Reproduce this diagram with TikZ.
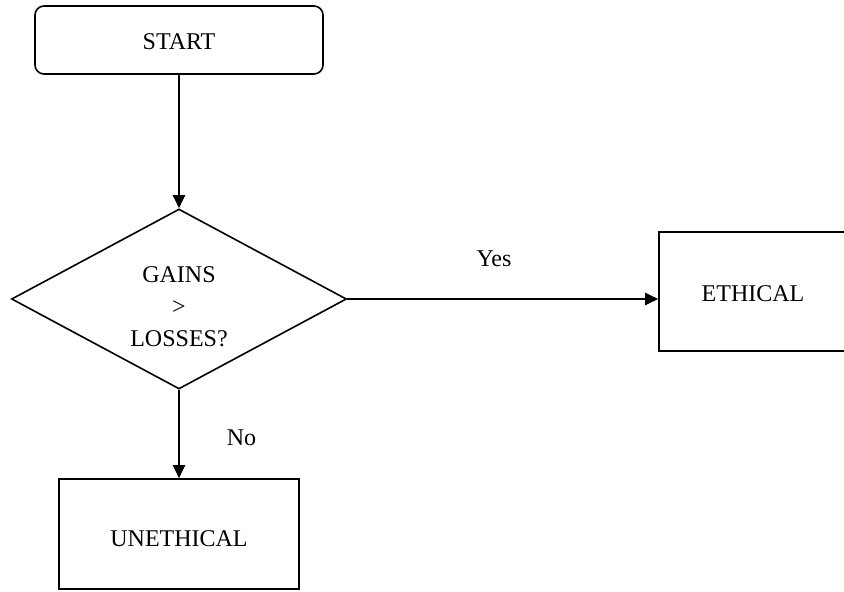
\documentclass[tikz,border=0pt]{standalone}
\usepackage{fontspec}
\setmainfont{Liberation Serif}
\usetikzlibrary{shapes.geometric,arrows.meta}
\begin{document}
\begin{tikzpicture}[x=1pt,y=1pt,
  every node/.style={font=\fontsize{24}{32}\selectfont},
  boxnode/.style={draw,line width=1.6pt,inner sep=0pt,text depth=0pt},
  conn/.style={line width=2pt,-{Triangle[length=13pt,width=12pt]}},
  lbl/.style={anchor=base,inner sep=0pt}]
\useasboundingbox (0,0) rectangle (844,-592);
\clip (0,0) rectangle (844,-592);
\node[boxnode,rounded corners=9pt,minimum width=288pt,minimum height=68pt,text height=18.9pt] (start) at (179,-40) {START};
\node[draw,line width=1.6pt,shape=diamond,inner sep=0pt,minimum width=335pt,minimum height=180pt] (dec) at (179,-299) {};
\node[align=center,inner sep=0pt] (dectext) at (179,-306.5) {GAINS\\>\\LOSSES?};
\node[boxnode,minimum width=188pt,minimum height=119pt,text height=19.9pt] (eth) at (753,-291.5) {ETHICAL};
\node[boxnode,minimum width=240pt,minimum height=110pt,text height=24.9pt] (uneth) at (179,-534) {UNETHICAL};
\draw[conn] (start.south) -- (dec.north);
\draw[conn] (dec.east) -- (dec.east -| eth.west);
\draw[conn] (dec.south) -- (uneth.north);
\node[lbl] (yes) at (494,-266) {Yes};
\node[lbl] (no) at (241.5,-445) {No};
\end{tikzpicture}
\end{document}
